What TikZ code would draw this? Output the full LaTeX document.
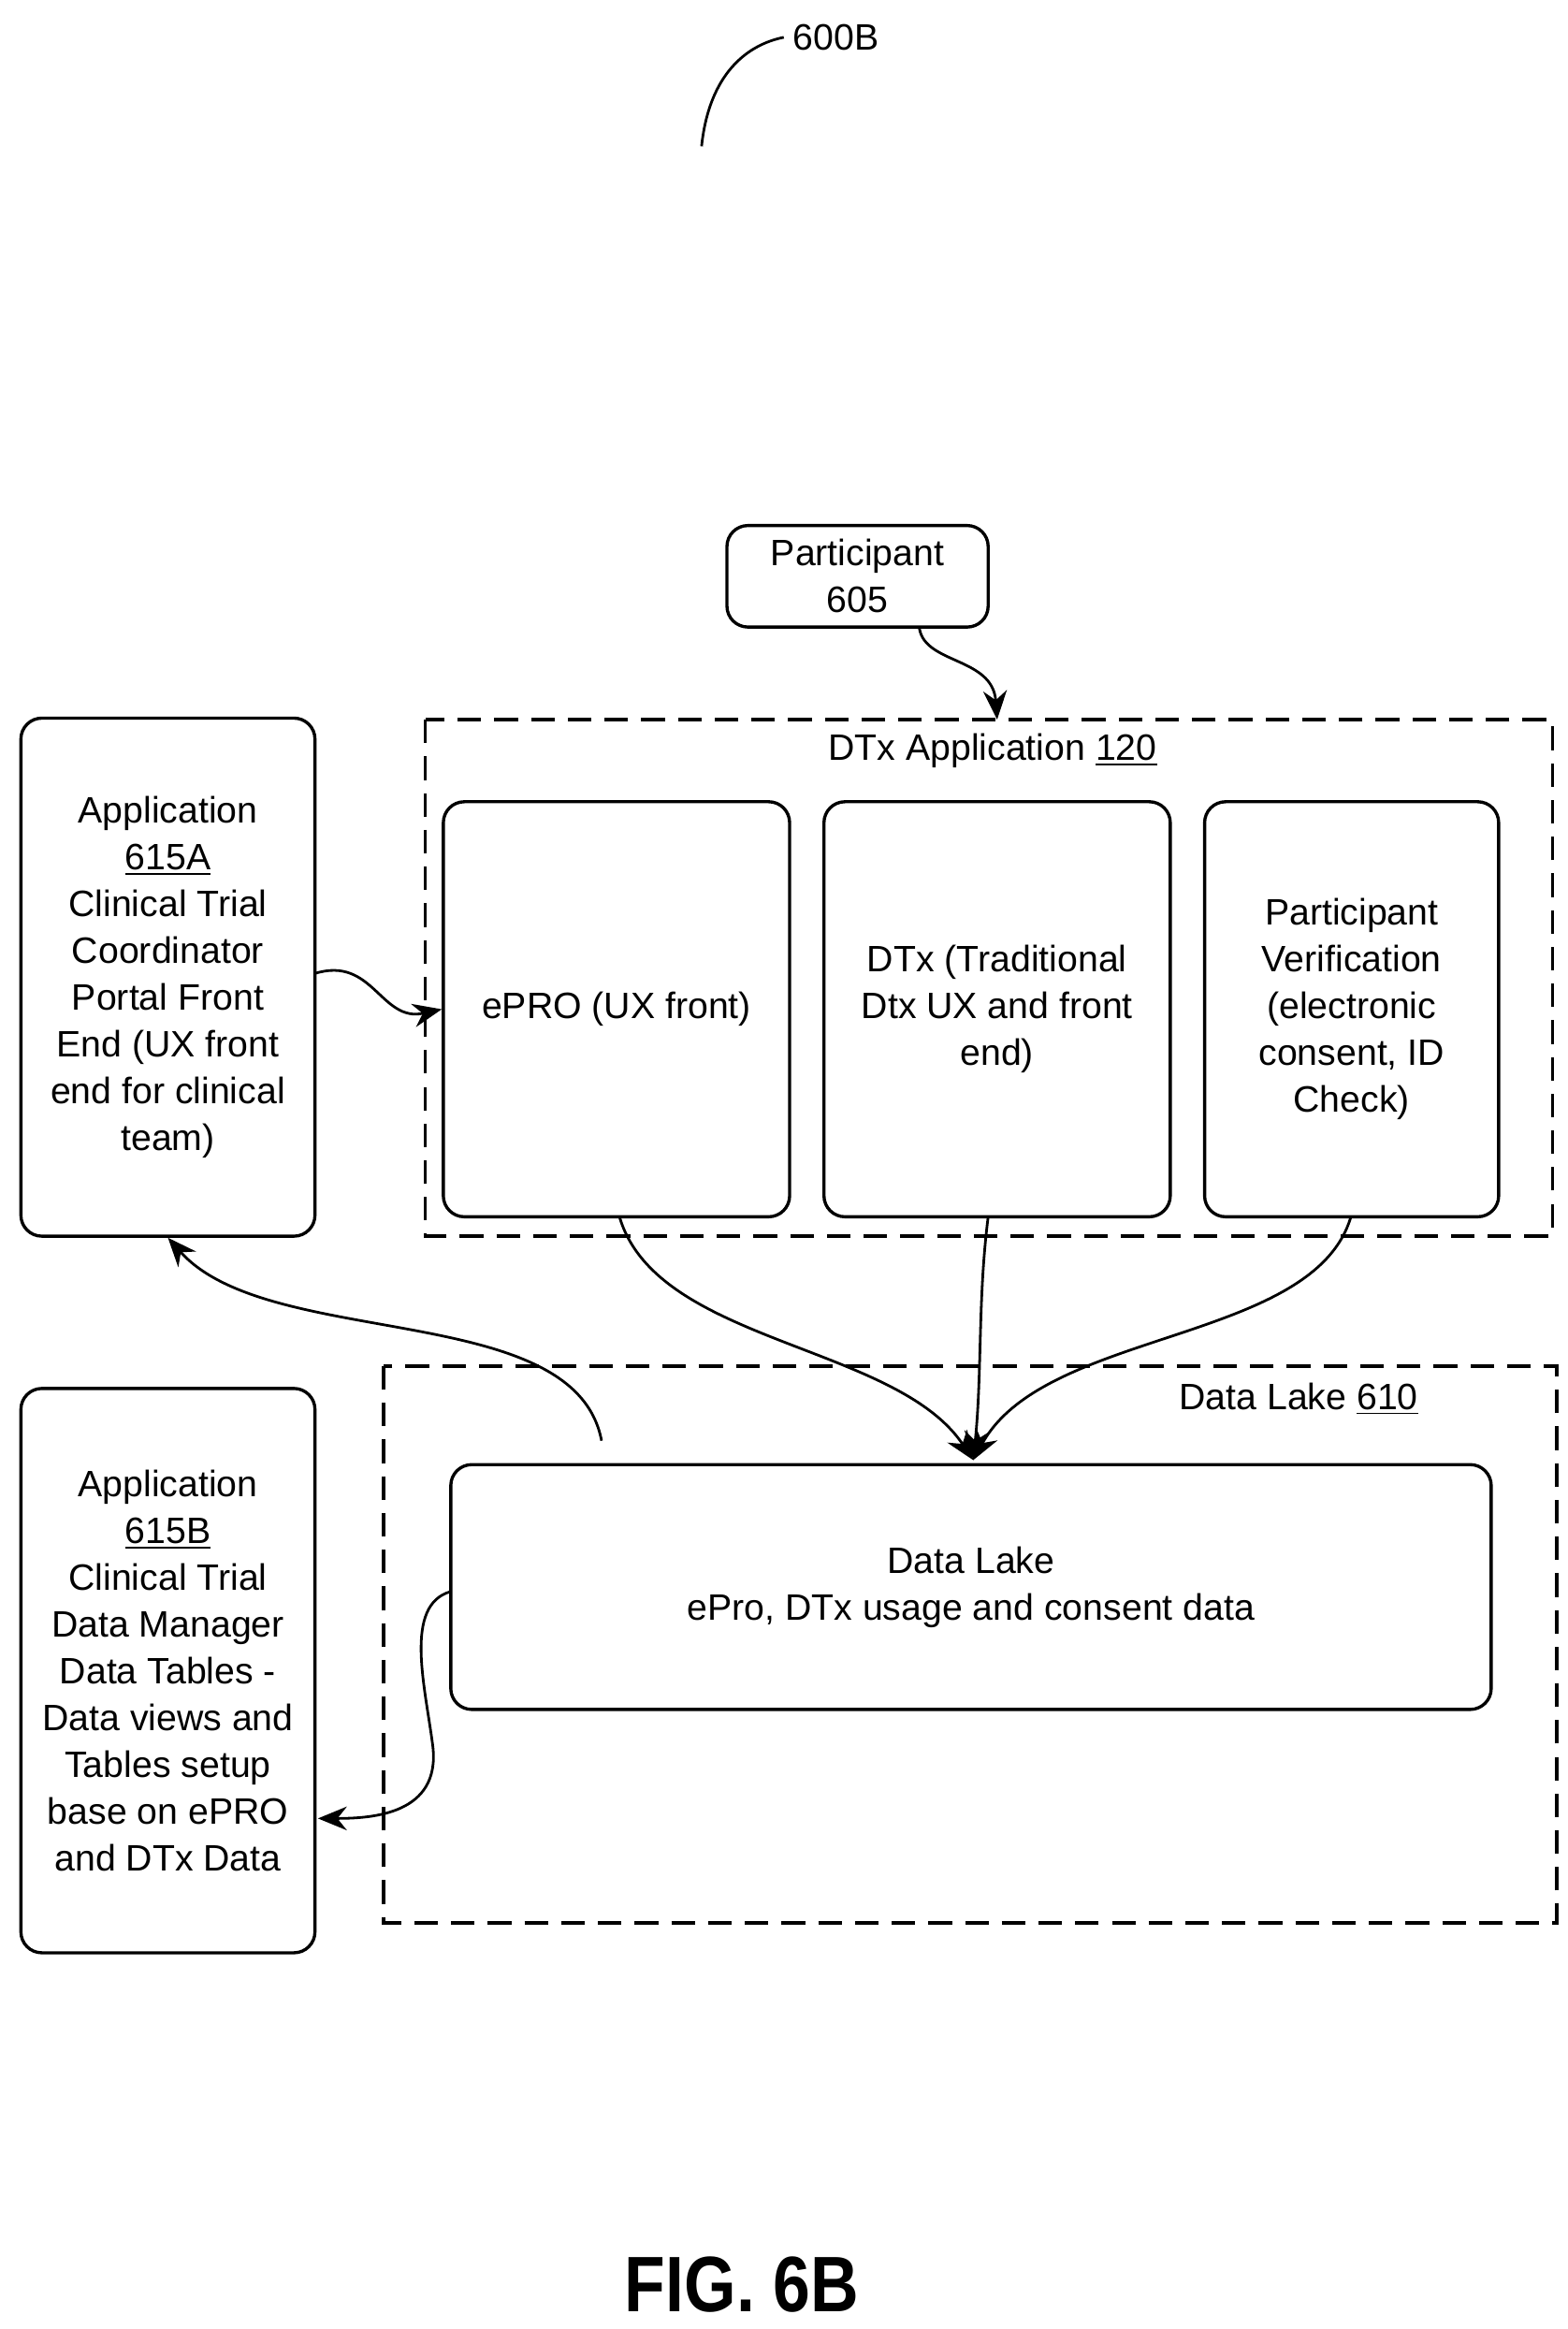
\documentclass[tikz,border=0pt]{standalone}
\usepackage{fontspec}
\setmainfont{Liberation Sans}
\usetikzlibrary{arrows.meta}
\begin{document}
\begin{tikzpicture}[x=0.02cm,y=-0.02cm,
 box/.style={draw,line width=1.2pt,rounded corners=8pt,align=center,inner sep=0pt},
 dbox/.style={draw,line width=1.2pt,dash pattern=on 9pt off 5pt},
 txt/.style={font=\fontsize{14}{17.8}\selectfont,align=center},
 arr/.style={line width=1pt,-{Stealth[length=11pt,width=9pt]}}]
\useasboundingbox (0,0) rectangle (1050,1560);
\node[txt] (lbl) at (560,25) {600B};
\coordinate (lblend) at (470,98);
\draw[line width=1pt] (lblend) .. controls (475,50) and (500,30) .. (lbl.west);
% participant
\node[box,minimum width=175*0.02cm,minimum height=68*0.02cm,txt] (part) at (574.5,386) {Participant\\605};
% DTx application
\draw[dbox] (285,482) rectangle (1040,828);
\node[txt] (dtxt) at (665,503) {DTx Application \underline{120}};
\coordinate (dtop) at (668,482);
\draw[arr] (part.south west) ++(130,0) .. controls (620,445) and (665,440) .. (dtop);
\node[box,minimum width=232*0.02cm,minimum height=278*0.02cm,txt] (epro) at (413,676) {ePRO (UX front)};
\node[box,minimum width=232*0.02cm,minimum height=278*0.02cm,txt] (dtx) at (668,676) {DTx (Traditional\\Dtx UX and front\\end)};
\node[box,minimum width=197*0.02cm,minimum height=278*0.02cm,txt] (pv) at (905.5,676) {Participant\\Verification\\(electronic\\consent, ID\\Check)};
% app 615A
\node[box,minimum width=197*0.02cm,minimum height=347*0.02cm,txt] (a615a) at (112.5,654.5) {Application\\\underline{615A}\\Clinical Trial\\Coordinator\\Portal Front\\End (UX front\\end for clinical\\team)};
\draw[arr] (211,652) .. controls (250,640) and (255,685) .. (epro.west);
% Data lake
\draw[dbox] (257,915) rectangle (1043,1288);
\node[txt] (dltxt) at (870,937) {Data Lake \underline{610}};
\node[box,minimum width=697*0.02cm,minimum height=164*0.02cm,txt] (dl) at (650.5,1063) {Data Lake\\ePro, DTx usage and consent data};
\coordinate (dlin) at (652,978);
\draw[arr] (415,815) .. controls (440,900) and (600,900) .. (dlin);
\draw[arr] (662,815) .. controls (655,870) and (658,920) .. (dlin);
\draw[arr] (905,815) .. controls (880,900) and (700,890) .. (dlin);
\coordinate (dlup) at (403,965);
\draw[arr] (dlup) .. controls (385,870) and (180,905) .. (a615a.south);
% app 615B
\node[box,minimum width=197*0.02cm,minimum height=378*0.02cm,txt] (a615b) at (112.5,1119) {Application\\\underline{615B}\\Clinical Trial\\Data Manager\\Data Tables -\\Data views and\\Tables setup\\base on ePRO\\and DTx Data};
\draw[arr] (302,1066) .. controls (270,1075) and (285,1130) .. (290,1170) .. controls (295,1215) and (250,1218) .. (213,1218);
\node[font=\fontsize{30}{36}\bfseries\selectfont,xscale=0.85] (fig) at (497,1530) {FIG. 6B};
\end{tikzpicture}
\end{document}
